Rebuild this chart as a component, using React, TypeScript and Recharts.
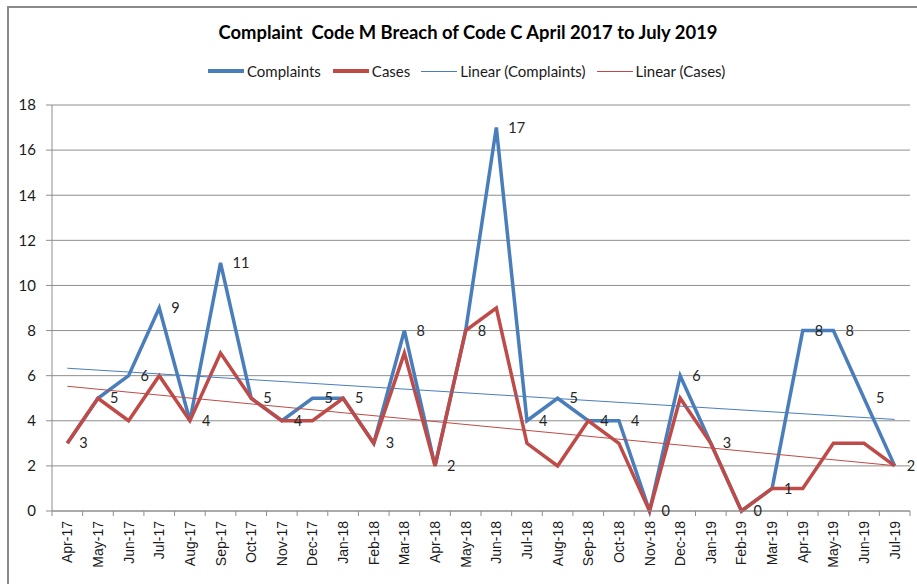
import React from 'react';
import { LineChart, Line, XAxis, YAxis, CartesianGrid, LabelList } from 'recharts';

const months = ['Apr-17','May-17','Jun-17','Jul-17','Aug-17','Sep-17','Oct-17','Nov-17','Dec-17','Jan-18','Feb-18','Mar-18','Apr-18','May-18','Jun-18','Jul-18','Aug-18','Sep-18','Oct-18','Nov-18','Dec-18','Jan-19','Feb-19','Mar-19','Apr-19','May-19','Jun-19','Jul-19'];
const complaints = [3,5,6,9,4,11,5,4,5,5,3,8,2,8,17,4,5,4,4,0,6,3,0,1,8,8,5,2];
const cases = [3,5,4,6,4,7,5,4,4,5,3,7,2,8,9,3,2,4,3,0,5,3,0,1,1,3,3,2];
// Linear trend endpoints (first month, last month)
const trendComplaints = [6.33, 4.06];
const trendCases = [5.53, 2.01];
const yTicks = [0,2,4,6,8,10,12,14,16,18];

const last = months.length - 1;
const data = months.map((m, i) => ({
  month: m,
  complaints: complaints[i],
  cases: cases[i],
  trendC: i === 0 ? trendComplaints[0] : i === last ? trendComplaints[1] : null,
  trendK: i === 0 ? trendCases[0] : i === last ? trendCases[1] : null,
}));

const W = 917;
const H = 584;
const PLOT_LEFT = 52;
const PLOT_RIGHT = 910;
const BAND = (PLOT_RIGHT - PLOT_LEFT) / months.length;
const BLUE = '#4A7EBB';
const RED = '#BE4B48';
const GRID = '#8e8e8e';

const XTick = (props: any) => {
  const { x, y, payload, index } = props;
  const half = BAND / 2;
  return (
    <g>
      <line x1={x - half} x2={x - half} y1={y - 7} y2={y - 2} stroke={GRID} />
      {index === last && <line x1={x + half} x2={x + half} y1={y - 7} y2={y - 2} stroke={GRID} />}
      <text
        transform={`translate(${x},${y + 3}) rotate(-90)`}
        textAnchor="end"
        dominantBaseline="central"
        fontFamily="'Liberation Sans', Arial, sans-serif"
        fontSize={14}
        fill="#1a1a1a"
      >
        {payload.value}
      </text>
    </g>
  );
};

const LegendItem = ({ color, width, label, gap }: { color: string; width: number; label: string; gap: number }) => (
  <div style={{ display: 'flex', alignItems: 'center', marginRight: gap }}>
    <div style={{ width: 36, height: width, background: color, marginRight: 3 }} />
    <span>{label}</span>
  </div>
);

export default function App() {
  return (
    <div style={{ position: 'absolute', left: 0, top: 0, width: W, height: H, background: '#fff', overflow: 'hidden' }}>
      <div style={{ position: 'absolute', left: 7, top: 6, width: W, height: H, borderLeft: '2px solid #8a8a8a', borderTop: '2px solid #8a8a8a' }} />
      <div style={{ position: 'absolute', left: 0, top: 21, width: 936, textAlign: 'center', fontFamily: 'Lato, sans-serif', fontWeight: 700, fontSize: 18.4, color: '#000' }}>
        Complaint&nbsp; Code M Breach of Code C April 2017 to July 2019
      </div>
      <div style={{ position: 'absolute', left: 208, top: 62, display: 'flex', alignItems: 'center', fontFamily: 'Lato, sans-serif', fontSize: 15, color: '#1a1a1a', whiteSpace: 'nowrap' }}>
        <LegendItem color={BLUE} width={3.5} label="Complaints" gap={12} />
        <LegendItem color={RED} width={3.5} label="Cases" gap={11} />
        <LegendItem color={BLUE} width={1} label="Linear (Complaints)" gap={11} />
        <LegendItem color={RED} width={1} label="Linear (Cases)" gap={0} />
      </div>
      <div style={{ position: 'absolute', left: 0, top: 0 }}>
        <LineChart width={W} height={H} data={data} margin={{ top: 105, right: W - PLOT_RIGHT, bottom: 0, left: 0 }}>
          <CartesianGrid vertical={false} stroke={GRID} strokeWidth={1} />
          <XAxis
            dataKey="month"
            interval={0}
            height={73}
            padding={{ left: BAND / 2, right: BAND / 2 }}
            axisLine={{ stroke: GRID }}
            tickLine={false}
            tickSize={5}
            tickMargin={2}
            tick={<XTick />}
          />
          <YAxis
            width={PLOT_LEFT}
            domain={[0, 18]}
            ticks={yTicks}
            interval={0}
            axisLine={{ stroke: GRID }}
            tickLine={{ stroke: GRID }}
            tickSize={6}
            tickMargin={10}
            tick={{ fontFamily: 'Lato, sans-serif', fontSize: 15, fill: '#1a1a1a' }}
          />
          <Line type="linear" dataKey="complaints" stroke={BLUE} strokeWidth={3.5} dot={false} isAnimationActive={false} />
          <Line type="linear" dataKey="cases" stroke={RED} strokeWidth={3.5} dot={false} isAnimationActive={false} />
          <Line type="linear" dataKey="trendC" stroke={BLUE} strokeWidth={1} dot={false} connectNulls isAnimationActive={false} />
          <Line type="linear" dataKey="trendK" stroke={RED} strokeWidth={1} dot={false} connectNulls isAnimationActive={false} />
          <Line type="linear" dataKey="complaints" stroke="none" dot={false} isAnimationActive={false} legendType="none">
            <LabelList
              dataKey="complaints"
              position="right"
              offset={12}
              style={{ fontFamily: 'Lato, sans-serif', fontSize: 14.5, fill: '#262626' }}
            />
          </Line>
        </LineChart>
      </div>
    </div>
  );
}
